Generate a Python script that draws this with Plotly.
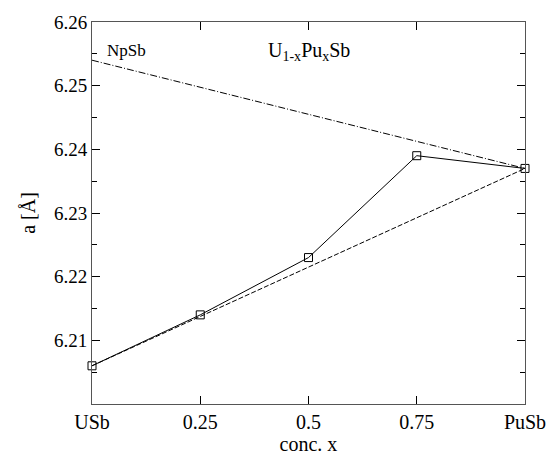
import plotly.graph_objects as go

conc = [0.0, 0.25, 0.5, 0.75, 1.0]
lattice = [6.206, 6.214, 6.223, 6.239, 6.237]
vegard_x = [0.0, 1.0]
vegard_y = [6.206, 6.237]
npsb_x = [0.0, 1.0]
npsb_y = [6.254, 6.237]
xtick_vals = [0.0, 0.25, 0.5, 0.75, 1.0]
xtick_text = ["USb", "0.25", "0.5", "0.75", "PuSb"]
ytick_vals = [6.21, 6.22, 6.23, 6.24, 6.25, 6.26]
ytick_text = ["6.21", "6.22", "6.23", "6.24", "6.25", "6.26"]

FONT = "'Liberation Serif', 'Times New Roman', Times, serif"

fig = go.Figure()
fig.add_trace(go.Scatter(x=npsb_x, y=npsb_y, mode="lines",
                         line=dict(color="black", width=1, dash="7px,2px,1px,2px"),
                         showlegend=False, hoverinfo="skip"))
fig.add_trace(go.Scatter(x=vegard_x, y=vegard_y, mode="lines",
                         line=dict(color="black", width=1, dash="5px,2px"),
                         showlegend=False, hoverinfo="skip"))
fig.add_trace(go.Scatter(x=conc, y=lattice, mode="lines+markers",
                         line=dict(color="black", width=1),
                         marker=dict(symbol="square-open", size=8, color="black",
                                     line=dict(width=1, color="black")),
                         cliponaxis=False, showlegend=False))

fig.add_annotation(x=0.03, y=6.2555, text="NpSb", showarrow=False,
                   xanchor="left", font=dict(family=FONT, size=17, color="black"))
fig.add_annotation(x=0.5, y=6.2553, text="U<sub>1-x</sub>Pu<sub>x</sub>Sb", showarrow=False,
                   font=dict(family=FONT, size=20, color="black"))

fig.update_layout(
    width=558, height=461,
    margin=dict(l=92, r=29, t=17, b=51),
    paper_bgcolor="white", plot_bgcolor="white",
    font=dict(family=FONT, size=19, color="black"),
)
fig.update_xaxes(range=[0, 1], tickmode="array", tickvals=xtick_vals, ticktext=xtick_text,
                 ticks="inside", ticklen=8, tickcolor="black", mirror="ticks",
                 showline=True, linecolor="#555", linewidth=1, showgrid=False, zeroline=False,
                 title=dict(text="conc. x", standoff=2, font=dict(family=FONT, size=20)),
                 tickfont=dict(family=FONT, size=20))
fig.update_yaxes(range=[6.20, 6.26], tickmode="array", tickvals=ytick_vals, ticktext=ytick_text,
                 ticks="inside", ticklen=8, tickcolor="black", mirror="ticks",
                 showline=True, linecolor="#555", linewidth=1, showgrid=False, zeroline=False,
                 minor=dict(tickmode="linear", tick0=6.20, dtick=0.005, ticks="inside",
                            ticklen=5, tickcolor="black", showgrid=False),
                 title=dict(text="a [Å]", standoff=12, font=dict(family=FONT, size=20)),
                 tickfont=dict(family=FONT, size=19))

fig.write_html("out.html")
